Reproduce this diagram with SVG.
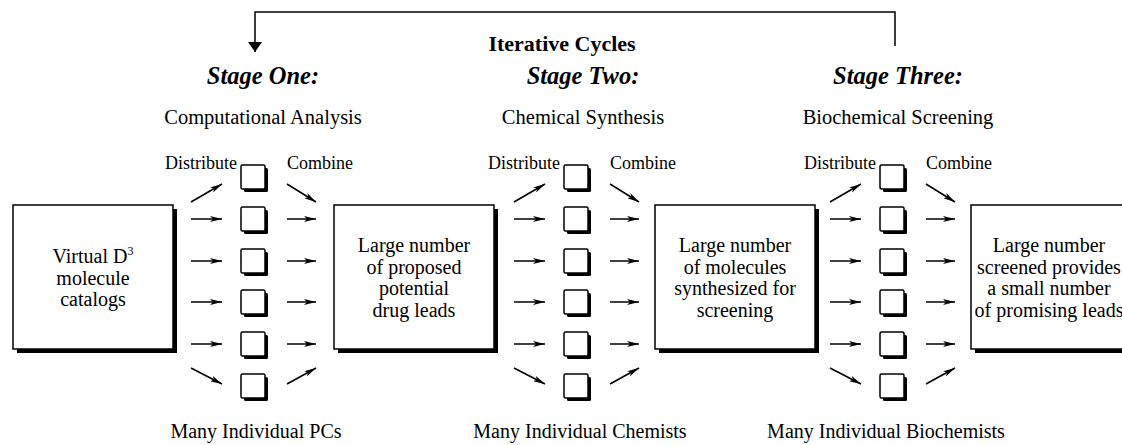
<svg xmlns="http://www.w3.org/2000/svg" width="1122" height="445" viewBox="0 0 1122 445">
<style>
text{font-family:"Liberation Serif","Times New Roman","DejaVu Serif",serif;fill:#000;text-anchor:middle}
.h{font-weight:bold;font-style:italic;font-size:24.5px}
.t{font-weight:bold;font-size:22px}
.s{font-size:20.5px}
.l{font-size:18px}
.b{font-size:20px}
.m{font-size:20px}
.box{fill:#fff;stroke:#000;stroke-width:1.5}
.sh{fill:#000}
.ar{stroke:#000;stroke-width:1.5;fill:none;marker-end:url(#ah)}
</style>
<defs>
<marker id="ah" viewBox="0 0 12 6" refX="12" refY="3" markerWidth="12" markerHeight="6" markerUnits="userSpaceOnUse" orient="auto">
<path d="M0,0 L12,3 L0,6 L3,3 z" fill="#000"/>
</marker>
<marker id="ahd" viewBox="0 0 10 14" refX="10" refY="7" markerWidth="10" markerHeight="14" markerUnits="userSpaceOnUse" orient="auto">
<path d="M0,0 L10,7 L0,14 z" fill="#000"/>
</marker>
<g id="sb">
<rect class="sh" x="3" y="3" width="24" height="24" rx="1.5"/>
<rect class="box" x="0" y="0" width="24" height="24" rx="1.5"/>
</g>
</defs>

<g id="connectors">
<path d="M895,46 V12 H255 V52" stroke="#000" stroke-width="1.5" fill="none" marker-end="url(#ahd)"/>
<g id="arrows-s1">
<line class="ar" x1="191" y1="202" x2="222" y2="184"/>
<line class="ar" x1="191" y1="219" x2="222" y2="219"/>
<line class="ar" x1="191" y1="261" x2="222" y2="261"/>
<line class="ar" x1="191" y1="302" x2="222" y2="302"/>
<line class="ar" x1="191" y1="344" x2="222" y2="344"/>
<line class="ar" x1="191" y1="368" x2="222" y2="384"/>
<line class="ar" x1="287" y1="184" x2="316" y2="202"/>
<line class="ar" x1="287" y1="219" x2="316" y2="219"/>
<line class="ar" x1="287" y1="261" x2="316" y2="261"/>
<line class="ar" x1="287" y1="302" x2="316" y2="302"/>
<line class="ar" x1="287" y1="344" x2="316" y2="344"/>
<line class="ar" x1="287" y1="384" x2="316" y2="368"/>
</g>
<use href="#arrows-s1" transform="translate(323,0)"/>
<use href="#arrows-s1" transform="translate(639,0)"/>
</g>

<g id="labels">
<text class="t" x="562" y="51">Iterative Cycles</text>
<text class="h" x="263" y="84">Stage One:</text>
<text class="h" x="583" y="84">Stage Two:</text>
<text class="h" x="898" y="84">Stage Three:</text>
<text class="s" x="263" y="124">Computational Analysis</text>
<text class="s" x="583" y="124">Chemical Synthesis</text>
<text class="s" x="898" y="124">Biochemical Screening</text>
<text class="l" x="201" y="169">Distribute</text>
<text class="l" x="320" y="169">Combine</text>
<text class="l" x="524" y="169">Distribute</text>
<text class="l" x="643" y="169">Combine</text>
<text class="l" x="840" y="169">Distribute</text>
<text class="l" x="959" y="169">Combine</text>
<text class="m" x="256" y="438">Many Individual PCs</text>
<text class="m" x="580" y="438">Many Individual Chemists</text>
<text class="m" x="886" y="438">Many Individual Biochemists</text>
</g>

<g id="pc-boxes">
<use href="#sb" x="241" y="165"/><use href="#sb" x="241" y="207"/><use href="#sb" x="241" y="249"/>
<use href="#sb" x="241" y="290"/><use href="#sb" x="241" y="332"/><use href="#sb" x="241" y="374"/>
</g>
<g id="chemist-boxes">
<use href="#sb" x="564" y="165"/><use href="#sb" x="564" y="207"/><use href="#sb" x="564" y="249"/>
<use href="#sb" x="564" y="290"/><use href="#sb" x="564" y="332"/><use href="#sb" x="564" y="374"/>
</g>
<g id="biochemist-boxes">
<use href="#sb" x="880" y="165"/><use href="#sb" x="880" y="207"/><use href="#sb" x="880" y="249"/>
<use href="#sb" x="880" y="290"/><use href="#sb" x="880" y="332"/><use href="#sb" x="880" y="374"/>
</g>

<g id="catalogs">
<rect class="sh" x="17" y="209" width="160" height="144"/>
<rect class="box" x="13" y="205" width="160" height="144"/>
<text class="b" x="93" y="263">Virtual D<tspan dy="-8" font-size="12">3</tspan></text>
<text class="b" x="93" y="285">molecule</text>
<text class="b" x="93" y="306">catalogs</text>
</g>
<g id="drug-leads">
<rect class="sh" x="338" y="209" width="160" height="144"/>
<rect class="box" x="334" y="205" width="160" height="144"/>
<text class="b" x="414" y="252">Large number</text>
<text class="b" x="414" y="274">of proposed</text>
<text class="b" x="414" y="295">potential</text>
<text class="b" x="414" y="317">drug leads</text>
</g>
<g id="synthesized">
<rect class="sh" x="659" y="209" width="160" height="144"/>
<rect class="box" x="655" y="205" width="160" height="144"/>
<text class="b" x="735" y="252">Large number</text>
<text class="b" x="735" y="274">of molecules</text>
<text class="b" x="735" y="295">synthesized for</text>
<text class="b" x="735" y="317">screening</text>
</g>
<g id="promising-leads">
<rect class="sh" x="975" y="209" width="160" height="144"/>
<rect class="box" x="971" y="205" width="160" height="144"/>
<text class="b" x="1049" y="252">Large number</text>
<text class="b" x="1049" y="274">screened provides</text>
<text class="b" x="1049" y="295">a small number</text>
<text class="b" x="1049" y="317">of promising leads</text>
</g>
</svg>
